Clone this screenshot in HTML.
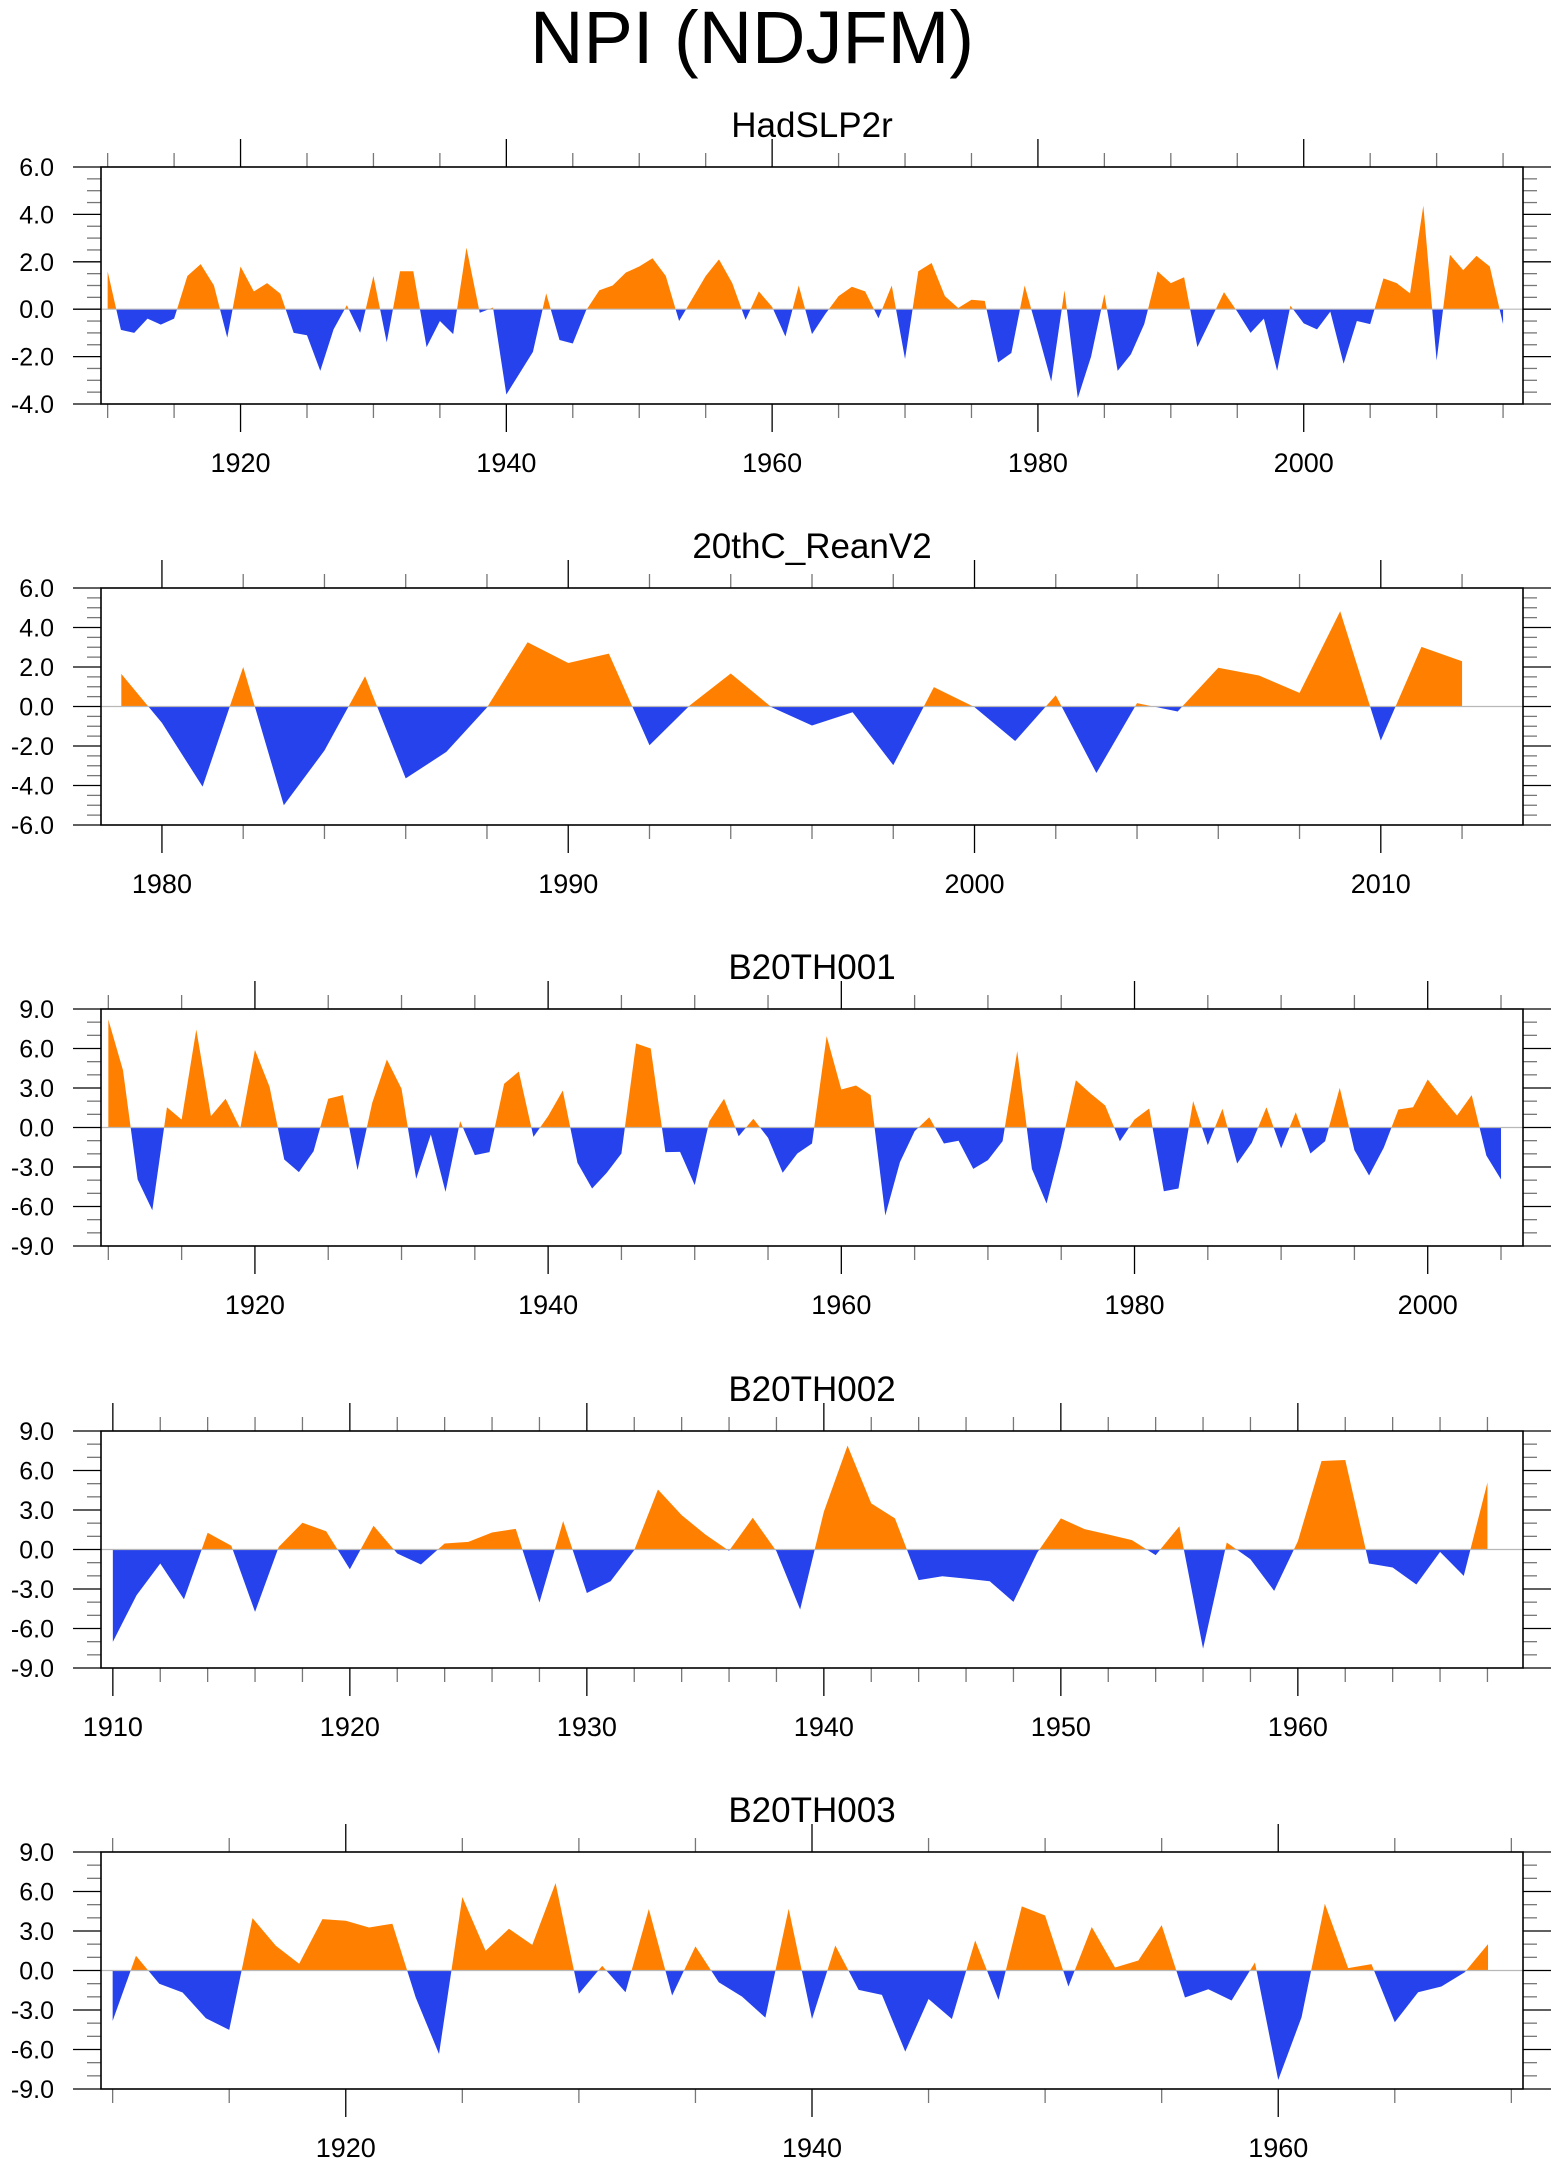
<!DOCTYPE html>
<html><head><meta charset="utf-8"><style>
html,body{margin:0;padding:0;background:#fff;}
svg{display:block;font-family:"Liberation Sans",Arial,sans-serif;}
</style></head><body>
<svg id="chart" width="1560" height="2165" viewBox="0 0 1560 2165" xmlns="http://www.w3.org/2000/svg">
<text x="752" y="63" font-size="74" text-anchor="middle" fill="#000">NPI (NDJFM)</text>
</svg>
<script>
// ---- data ----
const hadStart = 1910;
const hadValues = [1.6,-0.87,-1.0,-0.4,-0.65,-0.4,1.4,1.9,1.0,-1.2,1.8,0.75,1.1,0.65,-1.0,-1.1,-2.6,-0.85,0.17,-1.0,1.4,-1.4,1.6,1.6,-1.6,-0.5,-1.05,2.6,-0.15,0.07,-3.6,-2.7,-1.8,0.67,-1.3,-1.45,-0.05,0.8,1.0,1.55,1.8,2.15,1.4,-0.5,0.45,1.4,2.1,1.1,-0.45,0.75,0.1,-1.15,1.0,-1.05,-0.2,0.55,0.95,0.75,-0.38,1.0,-2.1,1.6,1.95,0.55,0.05,0.4,0.35,-2.25,-1.85,1.0,-1.0,-3.05,0.8,-3.75,-2.0,0.63,-2.6,-1.9,-0.63,1.6,1.1,1.35,-1.6,-0.45,0.72,-0.1,-1.0,-0.4,-2.6,0.15,-0.6,-0.85,-0.1,-2.3,-0.5,-0.63,1.3,1.1,0.67,4.37,-2.17,2.3,1.65,2.25,1.8,-0.63];
const rean20Start = 1979;
const rean20Values = [1.65,-0.83,-4.06,2.0,-5.0,-2.23,1.53,-3.64,-2.3,-0.05,3.25,2.2,2.68,-1.96,0.07,1.67,-0.03,-0.96,-0.29,-2.97,0.98,-0.03,-1.75,0.57,-3.37,0.17,-0.25,1.96,1.57,0.69,4.82,-1.72,3.02,2.29];
const b001Start = 1910;
const b001Values = [8.2,4.35,-3.95,-6.28,1.54,0.6,7.44,0.86,2.18,-0.08,5.9,3.09,-2.43,-3.39,-1.8,2.18,2.46,-3.24,1.87,5.16,2.94,-3.9,-0.53,-4.89,0.48,-2.1,-1.87,3.32,4.25,-0.71,0.86,2.81,-2.68,-4.63,-3.44,-1.97,6.38,6.0,-1.87,-1.85,-4.38,0.48,2.18,-0.66,0.66,-0.78,-3.44,-1.97,-1.22,6.94,2.89,3.19,2.46,-6.68,-2.63,-0.28,0.78,-1.22,-1.01,-3.14,-2.48,-1.04,5.8,-3.14,-5.77,-1.42,3.59,2.58,1.67,-1.04,0.61,1.44,-4.84,-4.63,2.0,-1.34,1.42,-2.73,-1.16,1.54,-1.59,1.16,-1.97,-1.04,3.01,-1.72,-3.65,-1.54,1.37,1.54,3.65,2.25,0.91,2.46,-2.13,-3.95];
const b002Start = 1910;
const b002Values = [-7.02,-3.47,-1.06,-3.78,1.27,0.28,-4.74,0.2,2.03,1.39,-1.5,1.8,-0.3,-1.14,0.46,0.58,1.29,1.57,-4.03,2.16,-3.3,-2.41,-0.05,4.56,2.61,1.14,-0.1,2.41,-0.13,-4.56,2.87,7.89,3.5,2.36,-2.33,-2.03,-2.21,-2.41,-3.98,-0.25,2.36,1.55,1.14,0.71,-0.43,1.77,-7.53,0.53,-0.74,-3.14,0.63,6.72,6.8,-1.06,-1.37,-2.66,-0.18,-2.0,5.1];
const b003Start = 1910;
const b003Values = [-3.83,1.12,-1.01,-1.67,-3.63,-4.51,3.98,1.88,0.51,3.9,3.78,3.27,3.55,-2.05,-6.34,5.58,1.5,3.17,1.95,6.64,-1.77,0.35,-1.65,4.67,-1.9,1.83,-0.89,-1.98,-3.58,4.69,-3.68,1.9,-1.47,-1.85,-6.16,-2.16,-3.68,2.28,-2.23,4.87,4.18,-1.22,3.3,0.23,0.76,3.45,-2.05,-1.42,-2.28,0.61,-8.32,-3.55,5.07,0.18,0.48,-3.93,-1.65,-1.22,-0.13,2.0];
const panelTitles = ["HadSLP2r","20thC_ReanV2","B20TH001","B20TH002","B20TH003"];
const yTickLabels1 = ["-4.0","-2.0","0.0","2.0","4.0","6.0"];
const yTickLabels2 = ["-6.0","-4.0","-2.0","0.0","2.0","4.0","6.0"];
const yTickLabels3 = ["-9.0","-6.0","-3.0","0.0","3.0","6.0","9.0"];

const NS = "http://www.w3.org/2000/svg";
const svg = document.getElementById('chart');
function mk(tag, attrs, parent){
  const e = document.createElementNS(NS, tag);
  for (const k in attrs) e.setAttribute(k, attrs[k]);
  (parent||svg).appendChild(e);
  return e;
}
const L = 101, R = 1523, H = 237;
const tops = [167, 588, 1009, 1431, 1852];

const panels = [
 {start:hadStart, vals:hadValues, ymin:-4, ymax:6, ylab:yTickLabels1, ymaj:2, ymin2:0.5, xmaj:20, xmin2:5, key:'hadslp2r'},
 {start:rean20Start, vals:rean20Values, ymin:-6, ymax:6, ylab:yTickLabels2, ymaj:2, ymin2:0.5, xmaj:10, xmin2:2, key:'20thc-reanv2'},
 {start:b001Start, vals:b001Values, ymin:-9, ymax:9, ylab:yTickLabels3, ymaj:3, ymin2:1, xmaj:20, xmin2:5, key:'b20th001'},
 {start:b002Start, vals:b002Values, ymin:-9, ymax:9, ylab:yTickLabels3, ymaj:3, ymin2:1, xmaj:10, xmin2:2, key:'b20th002'},
 {start:b003Start, vals:b003Values, ymin:-9, ymax:9, ylab:yTickLabels3, ymaj:3, ymin2:1, xmaj:20, xmin2:5, key:'b20th003'}
];

panels.forEach((p, i) => {
  const T = tops[i], B = T + H;
  const x0 = p.start - 0.5, x1 = p.start + p.vals.length - 1 + 1.5;
  const xs = v => L + (v - x0) / (x1 - x0) * (R - L);
  const ys = v => B - (v - p.ymin) / (p.ymax - p.ymin) * H;
  const g = mk('g', {});
  
  

  const title = mk('text', {x: (L+R)/2, y: T - 30, 'font-size': 35, 'text-anchor': 'middle', fill: '#000'}, g);
  title.textContent = panelTitles[i];
  
  

  const pts = [];
  p.vals.forEach((v, k) => {
    const yr = p.start + k;
    if (k > 0) {
      const pv = p.vals[k-1];
      if ((pv > 0 && v < 0) || (pv < 0 && v > 0)) {
        const t = pv / (pv - v);
        pts.push([yr - 1 + t, 0]);
      }
    }
    pts.push([yr, v]);
  });
  const first = pts[0][0], last = pts[pts.length-1][0];
  function poly(sel, color, name){
    let d = 'M' + xs(first) + ',' + ys(0);
    pts.forEach(q => { d += ' L' + xs(q[0]).toFixed(2) + ',' + ys(sel(q[1])).toFixed(2); });
    d += ' L' + xs(last) + ',' + ys(0) + ' Z';
    const e = mk('path', {d: d, fill: color, stroke: 'none'}, g);
    
    
  }
  poly(v => Math.max(v, 0), '#ff8000', 'positive-area');
  poly(v => Math.min(v, 0), '#2642ec', 'negative-area');

  const zl = mk('line', {x1: L, x2: R, y1: ys(0), y2: ys(0), stroke: '#b8b8b8', 'stroke-width': 1.2}, g);
  
  

  const nMinor = Math.round((p.ymax - p.ymin) / p.ymin2);
  for (let k = 0; k <= nMinor; k++) {
    const v = p.ymin + k * p.ymin2;
    const isMaj = Math.abs(v / p.ymaj - Math.round(v / p.ymaj)) < 1e-6;
    const len = isMaj ? 28 : 14;
    const y = ys(v);
    mk('line', {x1: L - len, x2: L, y1: y, y2: y, stroke: isMaj ? '#000' : '#777', 'stroke-width': 1.3}, g);
    mk('line', {x1: R, x2: R + len, y1: y, y2: y, stroke: isMaj ? '#000' : '#777', 'stroke-width': 1.3}, g);
  }
  p.ylab.forEach((lab, k) => {
    const v = p.ymin + k * p.ymaj;
    const t = mk('text', {x: 54, y: ys(v) + 9, 'font-size': 25, 'text-anchor': 'end', fill: '#000'}, g);
    t.textContent = lab;
    
    
  });

  const ts = Math.ceil(x0 / p.xmin2) * p.xmin2;
  for (let yr = ts; yr <= x1; yr += p.xmin2) {
    const isMaj = yr % p.xmaj === 0;
    const len = isMaj ? 28 : 14;
    const x = xs(yr);
    mk('line', {x1: x, x2: x, y1: B, y2: B + len, stroke: isMaj ? '#000' : '#777', 'stroke-width': 1.3}, g);
    mk('line', {x1: x, x2: x, y1: T - len, y2: T, stroke: isMaj ? '#000' : '#777', 'stroke-width': 1.3}, g);
    if (isMaj) {
      const t = mk('text', {x: x, y: B + 68, 'font-size': 27, 'text-anchor': 'middle', fill: '#000'}, g);
      t.textContent = String(yr);
      
      
    }
  }

  const fr = mk('rect', {x: L, y: T, width: R - L, height: H, fill: 'none', stroke: '#000', 'stroke-width': 1.6}, g);
  
  
});
</script>
</body></html>
